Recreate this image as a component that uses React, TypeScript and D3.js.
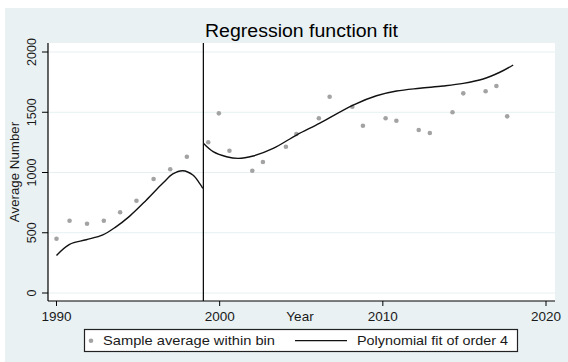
import React from "react";
import * as d3 from "d3";

const title = "Regression function fit";
const xLabel = "Year";
const yLabel = "Average Number";
const xTicks = [1990, 2000, 2010, 2020];
const yTicks = [0, 500, 1000, 1500, 2000];
const cutoff = 1999;

const binYears = [
  1990.0, 1990.8, 1991.87, 1992.9, 1993.9, 1994.9, 1995.95, 1996.97, 1997.99,
  1999.3, 1999.95, 2000.6, 2002.0, 2002.65, 2004.06, 2004.7, 2006.08, 2006.74,
  2008.13, 2008.78, 2010.17, 2010.83, 2012.2, 2012.88, 2014.27, 2014.93, 2016.3,
  2016.96, 2017.62,
];
const binValues = [
  450, 600, 575, 600, 670, 766, 946, 1027, 1131,
  1251, 1491, 1181, 1015, 1087, 1214, 1320, 1450, 1629,
  1546, 1388, 1450, 1430, 1353, 1328, 1500, 1657, 1674,
  1718, 1466,
];

const fitLeftYears = [1990.0, 1990.8, 1991.82, 1992.84, 1993.6, 1994.47, 1995.5, 1996.51, 1997.13, 1997.74, 1998.36, 1998.77, 1998.97];
const fitLeftValues = [312, 404, 442, 483, 545, 636, 770, 910, 988, 1015, 979, 910, 869];

const fitRightYears = [1999.0, 1999.6, 2000.42, 2001.13, 2002.05, 2003.28, 2004.71, 2006.14, 2008.18, 2009.61, 2010.84, 2012.27, 2013.7, 2014.93, 2016.15, 2017.17, 2017.99];
const fitRightValues = [1242, 1173, 1131, 1117, 1137, 1200, 1311, 1410, 1560, 1637, 1676, 1699, 1718, 1740, 1776, 1832, 1892];

const legendLabels = ["Sample average within bin", "Polynomial fit of order 4"];

export default function App() {
  const W = 568;
  const H = 362;
  const plot = { left: 48, right: 555, top: 43, bottom: 301 };
  const x = d3.scaleLinear().domain([1990, 2020]).range([56.5, 546]);
  const y = d3.scaleLinear().domain([0, 2000]).range([293, 52]);
  const font = "'Liberation Sans', Arial, sans-serif";
  const textColor = "#1a1a1a";

  const line = d3
    .line<[number, number]>()
    .x((d) => x(d[0]))
    .y((d) => y(d[1]))
    .curve(d3.curveCatmullRom.alpha(0.5));

  const leftPts = fitLeftYears.map((yr, i) => [yr, fitLeftValues[i]] as [number, number]);
  const rightPts = fitRightYears.map((yr, i) => [yr, fitRightValues[i]] as [number, number]);

  return (
    <svg
      width={W}
      height={H}
      style={{ position: "absolute", left: 0, top: 0, display: "block" }}
    >
      <rect x={0} y={0} width={W} height={H} fill="#ffffff" />
      <rect x={5} y={8} width={W - 5} height={H - 8} fill="#e9f1f3" />
      <rect
        x={plot.left}
        y={plot.top}
        width={plot.right - plot.left}
        height={plot.bottom - plot.top}
        fill="#ffffff"
      />
      {yTicks.map((t) => (
        <line
          key={"g" + t}
          x1={plot.left}
          x2={plot.right}
          y1={y(t)}
          y2={y(t)}
          stroke="#e6eff1"
          strokeWidth={1}
        />
      ))}
      <text
        x={301.5}
        y={37}
        textAnchor="middle"
        fontFamily={font}
        fontSize={18}
        textLength={193}
        lengthAdjust="spacingAndGlyphs"
        fill="#000"
      >
        {title}
      </text>
      <line x1={plot.left} x2={plot.left} y1={plot.top} y2={plot.bottom} stroke="#000" strokeWidth={1.2} />
      {yTicks.map((t) => (
        <g key={"yt" + t}>
          <line x1={plot.left - 6} x2={plot.left} y1={y(t)} y2={y(t)} stroke="#000" strokeWidth={1} />
          <text
            transform={`translate(35.5,${y(t)}) rotate(-90)`}
            textAnchor="middle"
            fontFamily={font}
            fontSize={12.5}
            fill={textColor}
          >
            {t}
          </text>
        </g>
      ))}
      <text
        transform={`translate(18.5,${(plot.top + plot.bottom) / 2}) rotate(-90)`}
        textAnchor="middle"
        fontFamily={font}
        fontSize={13.3}
        fill={textColor}
      >
        {yLabel}
      </text>
      <line x1={plot.left} x2={plot.right} y1={plot.bottom} y2={plot.bottom} stroke="#000" strokeWidth={1.2} />
      {xTicks.map((t) => (
        <g key={"xt" + t}>
          <line x1={x(t)} x2={x(t)} y1={plot.bottom} y2={plot.bottom + 5} stroke="#000" strokeWidth={1} />
          <text
            x={x(t)}
            y={320.5}
            textAnchor="middle"
            fontFamily={font}
            fontSize={13.5}
            fill={textColor}
          >
            {t}
          </text>
        </g>
      ))}
      <text x={300} y={320.5} textAnchor="middle" fontFamily={font} fontSize={13.5} fill={textColor}>
        {xLabel}
      </text>
      <line x1={x(cutoff)} x2={x(cutoff)} y1={plot.top} y2={plot.bottom} stroke="#000" strokeWidth={1.2} />
      {binYears.map((yr, i) => (
        <circle key={"p" + i} cx={x(yr)} cy={y(binValues[i])} r={2.3} fill="#a3a3a3" />
      ))}
      <path d={line(leftPts) || ""} fill="none" stroke="#111" strokeWidth={1.4} />
      <path d={line(rightPts) || ""} fill="none" stroke="#111" strokeWidth={1.4} />
      <rect x={84.5} y={329.5} width={433} height={22} fill="#ffffff" stroke="#222" strokeWidth={1.2} />
      <circle cx={91} cy={340.7} r={2.3} fill="#a3a3a3" />
      <text
        x={103}
        y={345.3}
        fontFamily={font}
        fontSize={13.5}
        textLength={172}
        lengthAdjust="spacingAndGlyphs"
        fill={textColor}
      >
        {legendLabels[0]}
      </text>
      <line x1={295} x2={347} y1={340.7} y2={340.7} stroke="#111" strokeWidth={1.2} />
      <text
        x={357}
        y={345.3}
        fontFamily={font}
        fontSize={13.5}
        textLength={151}
        lengthAdjust="spacingAndGlyphs"
        fill={textColor}
      >
        {legendLabels[1]}
      </text>
    </svg>
  );
}
